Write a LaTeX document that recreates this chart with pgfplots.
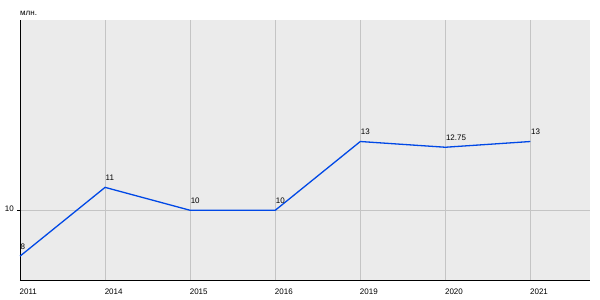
\documentclass[border=0pt]{standalone}
\usepackage{pgfplots}
\pgfplotsset{compat=1.18}
\usepackage{fontspec}
\setmainfont{Liberation Sans}
\definecolor{bgc}{RGB}{235,235,235}
\definecolor{gridc}{RGB}{196,196,196}
\definecolor{linec}{RGB}{0,72,230}
\begin{document}
\begin{tikzpicture}
\useasboundingbox (0,0) rectangle (600pt,300pt);
\begin{axis}[
  at={(20pt,20pt)}, anchor=south west,
  scale only axis, width=570pt, height=260pt,
  xmin=0, xmax=6.7, ymin=6.96, ymax=18.3,
  axis x line=bottom, axis y line=left,
  axis line style={black, line width=0.8pt, -},
  axis background/.style={fill=bgc},
  xtick={0,1,2,3,4,5,6},
  xticklabels={2011,2014,2015,2016,2019,2020,2021},
  ytick={10},
  yticklabels={10},
  grid=major,
  major grid style={gridc, line width=0.8pt},
  tick align=outside,
  major tick length=3pt,
  x tick style={draw=none},
  y tick style={black, line width=0.6pt},
  tick label style={font=\fontsize{8}{9}\selectfont},
  xticklabel style={anchor=north west, inner sep=0pt, yshift=-6pt, xshift=-0.5pt},
  yticklabel style={anchor=east, inner sep=0pt, xshift=-3pt, yshift=2pt},
  /pgf/number format/assume math mode=true,
  clip=false,
]
\addplot[linec, line width=1.3pt, mark=none,
  nodes near coords, point meta=explicit symbolic,
  every node near coord/.style={anchor=south west, inner sep=0pt, yshift=6pt, black, font=\fontsize{8}{9}\selectfont}]
  coordinates {
  (0,8) [8]
  (1,11) [11]
  (2,10) [10]
  (3,10) [10]
  (4,13) [13]
  (5,12.75) [12.75]
  (6,13) [13]
};
\end{axis}
\node[anchor=base west, inner sep=0pt, font=\fontsize{8}{9}\selectfont] at (20pt,284.5pt) {млн.};
\end{tikzpicture}
\end{document}
